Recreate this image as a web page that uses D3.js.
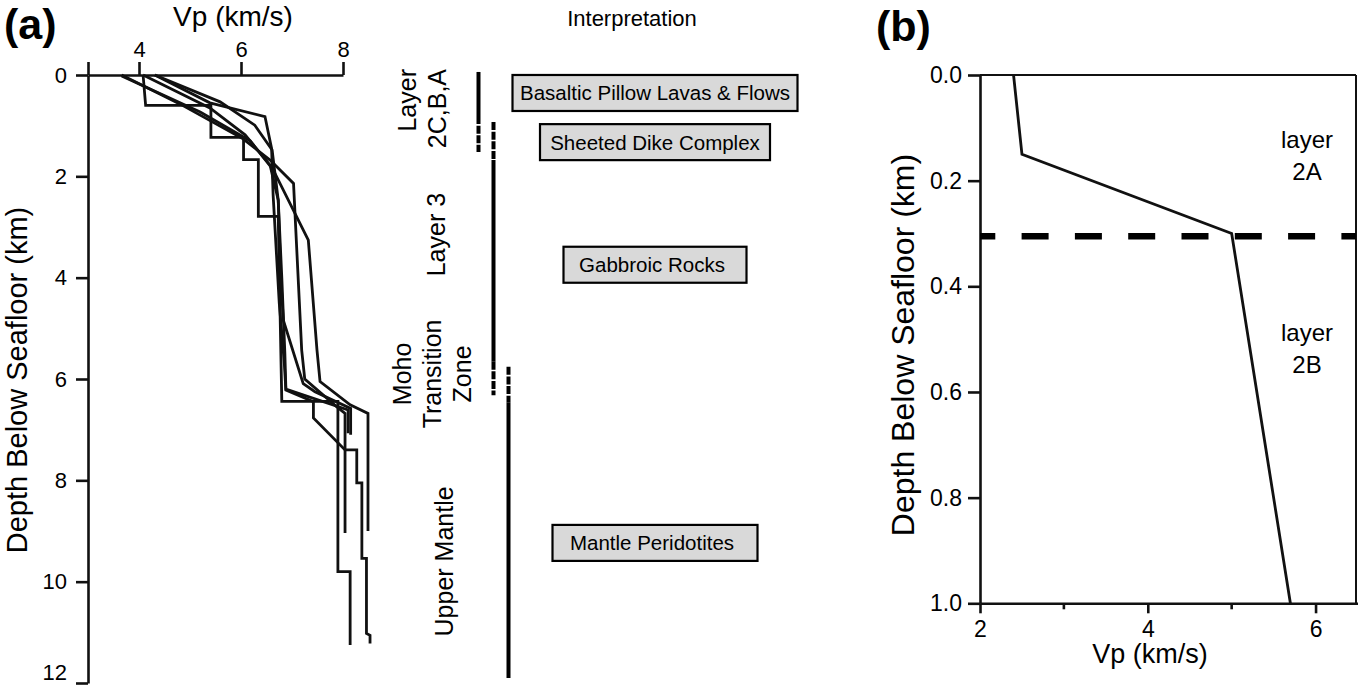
<!DOCTYPE html>
<html><head><meta charset="utf-8">
<script src="https://cdn.jsdelivr.net/npm/d3@7"></script>
<style>
body{margin:0;background:#fff}
svg{display:block}
text{font-family:"Liberation Sans",Arial,Helvetica,sans-serif;fill:#000}
</style>
</head><body>
<svg id="c" width="1358" height="688"></svg>
<script>
// ---------------- DATA ----------------
// Panel (a): velocity profiles [Vp km/s, depth km]
const vpTicksA = [4, 6, 8];
const depthTicksA = [0, 2, 4, 6, 8, 10, 12];
const profile1 = [[4.08,0],[4.13,0.6],[5.41,0.6],[5.41,1.23],[6.05,1.23],[6.05,1.67],[6.34,1.67],[6.34,2.79],[6.73,2.79],[6.8,6.44],[7.9,6.44],[7.9,9.8],[8.14,9.8],[8.14,11.25]];
const profile2 = [[4.31,0],[5.39,0.55],[6.47,0.82],[6.6,1.45],[6.63,2.37],[6.75,4.5],[6.85,5.7],[6.88,6.22],[7.42,6.45],[7.42,6.77],[8.04,7.4],[8.27,7.4],[8.27,8.05],[8.37,8.05],[8.37,9.54],[8.46,9.54],[8.46,11.02],[8.53,11.06],[8.53,11.22]];
const profile3 = [[3.66,0],[4.8,0.57],[6.04,1.26],[6.57,1.68],[7.03,2.14],[7.19,5.43],[7.25,6.0],[7.88,6.55],[8.04,6.68],[8.04,9.04]];
const profile4 = [[3.66,0.02],[5.2,0.73],[6.18,1.3],[6.63,1.87],[7.32,3.26],[7.49,5.43],[7.55,6.05],[8.14,6.51],[8.49,6.68],[8.49,9.0]];
const profile5 = [[4.08,0],[5.39,0.65],[6.08,1.18],[6.57,1.78],[6.73,2.47],[6.8,4.0],[6.86,5.5],[6.88,6.2],[8.1,6.61],[8.1,7.07]];
const profile6 = [[4.31,0],[5.59,0.53],[6.27,0.99],[6.61,1.48],[6.73,2.47],[6.78,4.0],[6.83,4.84],[7.22,6.09],[7.45,6.25],[8.15,6.58],[8.15,7.1]];
const profilesA = [profile1, profile2, profile3, profile4, profile5, profile6];

// Interpretation column bars: [column, depth from, depth to, dashed]
const interpBars = [
  [0, -0.06, 0.81, false], [0, 0.81, 1.52, true],
  [1, 0.93, 1.68, true], [1, 1.68, 5.66, false], [1, 5.66, 6.32, true],
  [2, 5.76, 6.47, true], [2, 6.47, 11.9, false]
];
// Lithology boxes: label, centre depth (km)
const lithLabels = ["Basaltic Pillow Lavas & Flows", "Sheeted Dike Complex", "Gabbroic Rocks", "Mantle Peridotites"];
const lithDepths = [0.355, 1.325, 3.745, 9.235];
// Layer labels (lines), centre depth
const layerLabels = [["Layer", "2C,B,A"], ["Layer 3"], ["Moho", "Transition", "Zone"], ["Upper Mantle"]];
const layerDepths = [null, 3.15, 5.9, 9.6];

// Panel (b)
const vpB = [2.4, 2.5, 5.0, 5.7];
const depthB = [0, 0.15, 0.30, 1.0];
const boundaryB = 0.305;
const vpTicksB = [2, 4, 6];
const vpMinorB = [3, 5];
const depthTicksB = [0, 0.2, 0.4, 0.6, 0.8, 1.0];
const layerB = [["layer", "2A", 0.168], ["layer", "2B", 0.534]];

// ---------------- DRAW ----------------
const svg = d3.select("#c");
const ink = "#111";

// Panel (a)
const xA = d3.scaleLinear().domain([3, 8]).range([88, 343]);
const yA = d3.scaleLinear().domain([0, 12]).range([75, 683]);

const gxA = svg.append("g").attr("transform", `translate(0,${yA(0)})`)
  .call(d3.axisTop(xA).tickValues([3].concat(vpTicksA)).tickSize(13).tickSizeOuter(0).tickPadding(5)
    .tickFormat(d => d === 3 ? "" : d));
const gyA = svg.append("g").attr("transform", `translate(${xA(3)},0)`)
  .call(d3.axisLeft(yA).tickValues(depthTicksA).tickSize(12).tickSizeOuter(0).tickPadding(9));
[gxA, gyA].forEach(g => {
  g.selectAll("path,line").attr("stroke", ink).attr("stroke-width", 2.6);
  g.selectAll("text").style("font-size", "22px").attr("fill", "#000");
});
// keep the bottom label inside the picture
gyA.selectAll(".tick text").filter(d => d === 12).attr("dy", "-0.14em");

const lineA = d3.line().x(d => xA(d[0])).y(d => yA(d[1]));
svg.append("g").selectAll("path").data(profilesA).join("path")
  .attr("d", lineA).attr("fill", "none").attr("stroke", ink)
  .attr("stroke-width", 2.8).attr("stroke-linejoin", "miter");

svg.append("text").attr("x", 233).attr("y", 26).attr("text-anchor", "middle")
  .style("font-size", "28px").text("Vp (km/s)");
svg.append("text").attr("transform", `translate(27,380) rotate(-90)`)
  .attr("text-anchor", "middle").style("font-size", "29px").text("Depth Below Seafloor (km)");
svg.append("text").attr("x", 4).attr("y", 39).style("font-size", "43px").style("font-weight", "bold").text("(a)");

// Interpretation column
svg.append("text").attr("x", 632).attr("y", 26).attr("text-anchor", "middle")
  .style("font-size", "22px").text("Interpretation");

const colX = d3.scalePoint().domain([0, 1, 2]).range([478.5, 508.5]);
svg.append("g").selectAll("line").data(interpBars).join("line")
  .attr("x1", d => colX(d[0])).attr("x2", d => colX(d[0]))
  .attr("y1", d => yA(d[1])).attr("y2", d => yA(d[2]))
  .attr("stroke", "#000").attr("stroke-width", 4)
  .attr("stroke-dasharray", d => d[3] ? "8,1.6" : null);

// Layer labels
const labelFont = 25, lineGap = 30;
const labelCx = [422, 436, 432, 444];
layerLabels.forEach((lines, i) => {
  const n = lines.length;
  lines.forEach((t, j) => {
    const cx = labelCx[i] + (j - (n - 1) / 2) * lineGap;
    const txt = svg.append("text").style("font-size", labelFont + "px").attr("dy", "0.35em").text(t);
    if (i === 0) {
      txt.attr("transform", `translate(${cx},${yA(0) - 6}) rotate(-90)`).attr("text-anchor", "end");
    } else {
      txt.attr("transform", `translate(${cx},${yA(layerDepths[i])}) rotate(-90)`).attr("text-anchor", "middle");
    }
  });
});

// Lithology boxes
const boxW = [285, 230, 183, 205], boxH = 36, boxCx = 655;
lithLabels.forEach((t, i) => {
  const cy = yA(lithDepths[i]);
  svg.append("rect").attr("x", boxCx - boxW[i] / 2).attr("y", cy - boxH / 2)
    .attr("width", boxW[i]).attr("height", boxH)
    .attr("fill", "#d9d9d9").attr("stroke", "#000").attr("stroke-width", 2.2);
  svg.append("text").attr("x", boxCx - (i >= 2 ? 3 : 0)).attr("y", cy).attr("dy", "0.36em")
    .attr("text-anchor", "middle").style("font-size", "20.5px").text(t);
});

// Panel (b)
const xB = d3.scaleLinear().domain([2, 6.5]).range([980, 1357.5]);
const yB = d3.scaleLinear().domain([0, 1]).range([75, 603.3]);

// frame (top & right)
svg.append("line").attr("x1", xB(2)).attr("x2", xB(6.5) - 1.5).attr("y1", yB(0)).attr("y2", yB(0))
  .attr("stroke", ink).attr("stroke-width", 2);
svg.append("line").attr("x1", xB(6.5) - 1.5).attr("x2", xB(6.5) - 1.5).attr("y1", yB(0)).attr("y2", yB(1))
  .attr("stroke", ink).attr("stroke-width", 2);

const gxB = svg.append("g").attr("transform", `translate(0,${yB(1)})`)
  .call(d3.axisBottom(xB).tickValues(vpTicksB).tickSize(10).tickSizeOuter(0).tickPadding(7)
    .tickFormat(d3.format("d")));
gxB.append("g").selectAll("line").data(vpMinorB).join("line")
  .attr("x1", d => xB(d)).attr("x2", d => xB(d)).attr("y1", 0).attr("y2", 6);
const gyB = svg.append("g").attr("transform", `translate(${xB(2)},0)`)
  .call(d3.axisLeft(yB).tickValues(depthTicksB).tickSize(12).tickSizeOuter(0).tickPadding(6)
    .tickFormat(d3.format(".1f")));
[gxB, gyB].forEach(g => {
  g.selectAll("path,line").attr("stroke", ink).attr("stroke-width", 2.6);
  g.selectAll("text").style("font-size", "23px").attr("fill", "#000");
});

// dashed boundary
svg.append("line").attr("x1", xB(2)).attr("x2", xB(6.5) - 1.5)
  .attr("y1", yB(boundaryB)).attr("y2", yB(boundaryB))
  .attr("stroke", "#000").attr("stroke-width", 6.5)
  .attr("stroke-dasharray", "27,26.3").attr("stroke-dashoffset", 11.7);

const lineB = d3.line().x(d => xB(d[0])).y(d => yB(d[1]));
svg.append("path").datum(vpB.map((v, i) => [v, depthB[i]]))
  .attr("d", lineB).attr("fill", "none").attr("stroke", ink).attr("stroke-width", 2.8);

layerB.forEach(d => {
  const t = svg.append("text").attr("x", 1307).attr("y", yB(d[2]) - 16).attr("text-anchor", "middle")
    .style("font-size", "24px");
  t.append("tspan").attr("x", 1307).text(d[0]);
  t.append("tspan").attr("x", 1307).attr("dy", 32).text(d[1]);
});

svg.append("text").attr("x", 1150).attr("y", 663).attr("text-anchor", "middle")
  .style("font-size", "27px").text("Vp (km/s)");
svg.append("text").attr("transform", `translate(914,345) rotate(-90)`)
  .attr("text-anchor", "middle").style("font-size", "32px").text("Depth Below Seafloor (km)");
svg.append("text").attr("x", 876).attr("y", 41).style("font-size", "43px").style("font-weight", "bold").text("(b)");
</script>
</body></html>
